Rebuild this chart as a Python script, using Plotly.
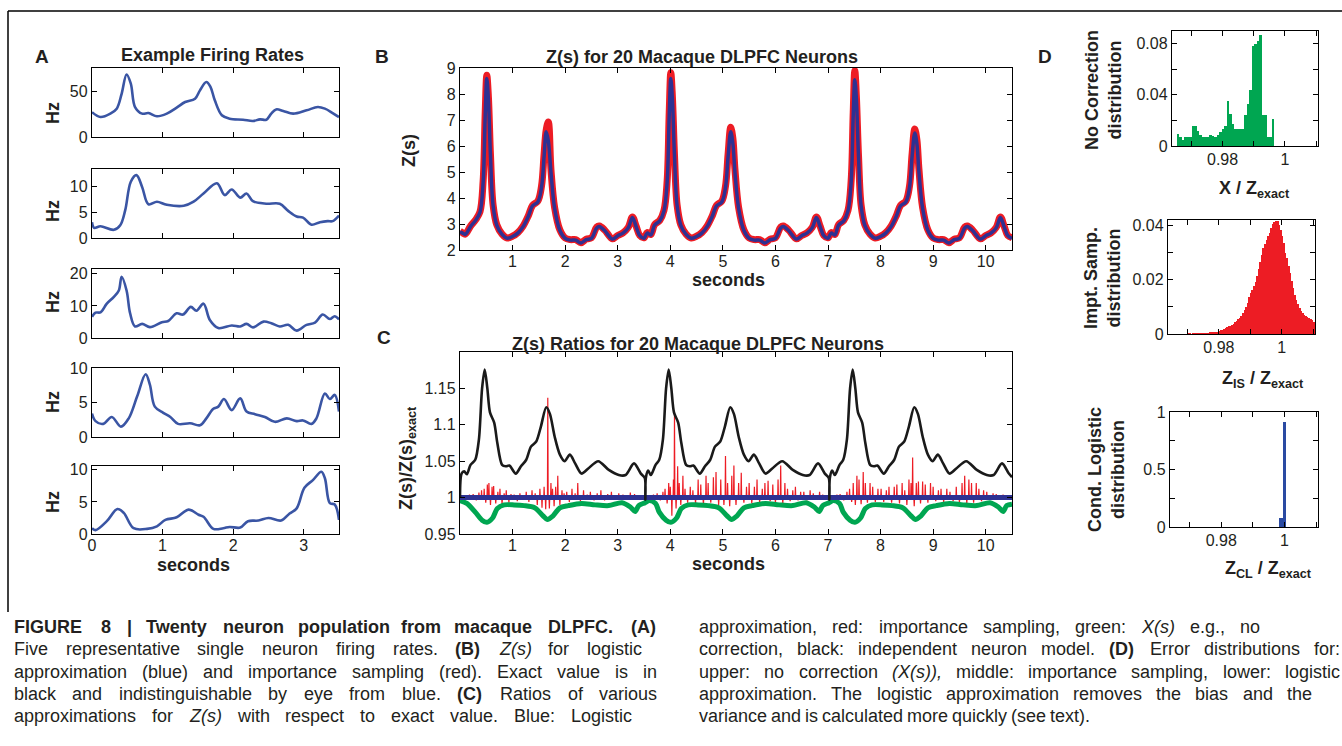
import re
import plotly.graph_objects as go

W, H = 1342, 746


def fx(px):
    return px / W


def fy(py):
    return 1 - py / H


# ---------------- DATA ----------------
# Panel A: example firing rates (seconds, Hz)
A1_t = [0, 0.12, 0.26, 0.35, 0.42, 0.49, 0.55, 0.61, 0.71, 0.80, 0.92, 1.06, 1.20, 1.32, 1.46, 1.53, 1.62, 1.68,
        1.74, 1.84, 1.95, 2.14, 2.28, 2.38, 2.47, 2.54, 2.61, 2.71, 2.85, 3.04, 3.20, 3.30, 3.41, 3.50]
A1_hz = [27, 21.7, 25.4, 30.8, 47, 68, 58, 32.6, 25.4, 26, 22.5, 25.4, 31.9, 38, 41.7, 50.7, 59.8, 54.3,
         39.9, 23.6, 19.9, 18.8, 17.4, 19.2, 18.8, 25.4, 30, 28.3, 25.4, 29, 32.6, 30.8, 26, 21.7]
A2_t = [0, 0.03, 0.12, 0.31, 0.40, 0.47, 0.55, 0.63, 0.71, 0.80, 0.92, 1.06, 1.30, 1.44, 1.58, 1.77, 1.88, 1.98,
        2.10, 2.19, 2.28, 2.47, 2.66, 2.78, 2.90, 2.99, 3.11, 3.23, 3.34, 3.41, 3.50]
A2_hz = [3.1, 2.0, 2.3, 1.6, 2.5, 5.4, 11.0, 12.3, 10.0, 6.6, 7.1, 6.5, 6.3, 7.1, 8.7, 10.7, 8.4, 9.5,
         7.9, 8.7, 7.2, 6.7, 6.7, 5.3, 4.2, 4.0, 2.6, 3.1, 3.3, 3.3, 4.4]
A3_t = [0, 0.05, 0.12, 0.21, 0.31, 0.38, 0.42, 0.49, 0.54, 0.61, 0.71, 0.82, 0.99, 1.08, 1.20, 1.29, 1.40, 1.48,
        1.58, 1.67, 1.79, 1.98, 2.10, 2.19, 2.28, 2.43, 2.54, 2.66, 2.78, 2.90, 3.04, 3.16, 3.27, 3.37, 3.44, 3.50]
A3_hz = [6.6, 7.9, 8.0, 10.7, 12.8, 14.8, 19.1, 14.8, 7.7, 3.6, 4.4, 3.4, 4.9, 5.3, 7.7, 7.3, 9.7, 8.5,
         10.7, 5.6, 3.1, 3.9, 3.6, 4.4, 3.3, 5.1, 4.6, 3.6, 4.1, 2.3, 4.1, 4.8, 7.3, 5.9, 6.8, 5.8]
A4_t = [0, 0.05, 0.16, 0.28, 0.41, 0.52, 0.64, 0.76, 0.82, 0.89, 1.01, 1.11, 1.22, 1.39, 1.53, 1.62, 1.72, 1.79,
        1.87, 1.98, 2.10, 2.19, 2.31, 2.45, 2.59, 2.76, 2.90, 2.99, 3.11, 3.18, 3.30, 3.37, 3.44, 3.50]
A4_hz = [3.4, 2.3, 1.9, 2.9, 1.5, 2.7, 5.9, 9.1, 7.6, 4.4, 3.5, 2.9, 1.9, 2.0, 1.7, 2.7, 4.1, 4.4,
         5.5, 3.9, 5.6, 3.7, 3.3, 2.9, 2.2, 2.7, 2.3, 2.4, 1.9, 2.7, 6.3, 5.5, 6.1, 3.7]
A5_t = [0, 0.05, 0.21, 0.36, 0.45, 0.59, 0.78, 0.92, 1.04, 1.20, 1.37, 1.51, 1.58, 1.72, 1.86, 1.95, 2.10, 2.21,
        2.36, 2.50, 2.68, 2.80, 2.90, 3.01, 3.13, 3.25, 3.30, 3.37, 3.44, 3.50]
A5_hz = [0.9, 0.6, 2.0, 3.9, 3.3, 0.9, 0.8, 1.2, 2.2, 2.6, 3.8, 3.0, 2.7, 0.8, 0.9, 1.1, 1.0, 2.0,
         2.1, 2.5, 2.1, 3.2, 4.0, 7.2, 8.4, 9.7, 8.7, 4.8, 4.6, 2.2]

# Panel B: Z(s), logistic approximation (blue) and importance sampling (red)
B_t = [0.00, 0.05, 0.10, 0.20, 0.30, 0.38, 0.44, 0.48, 0.51, 0.54, 0.58, 0.63, 0.70, 0.80, 0.90, 1.00, 1.10, 1.20,
       1.30, 1.38, 1.48, 1.55, 1.60, 1.64, 1.68, 1.73, 1.80, 1.90, 2.00, 2.10, 2.20, 2.30, 2.40, 2.50, 2.60, 2.65,
       2.75, 2.90, 3.00, 3.10, 3.20, 3.28, 3.35, 3.42, 3.50,
       3.56, 3.63, 3.70, 3.80, 3.88, 3.94, 3.98, 4.01, 4.04, 4.08, 4.13, 4.20, 4.30, 4.40, 4.50, 4.60, 4.70, 4.80,
       4.88, 4.98, 5.05, 5.10, 5.15, 5.19, 5.23, 5.30, 5.40, 5.50, 5.60, 5.70, 5.80, 5.90, 6.00, 6.10, 6.15, 6.25,
       6.40, 6.50, 6.60, 6.70, 6.78, 6.85, 6.92, 7.00,
       7.06, 7.13, 7.20, 7.30, 7.38, 7.44, 7.48, 7.51, 7.54, 7.58, 7.63, 7.70, 7.80, 7.90, 8.00, 8.10, 8.20, 8.30,
       8.38, 8.48, 8.55, 8.60, 8.65, 8.69, 8.73, 8.80, 8.90, 9.00, 9.10, 9.20, 9.30, 9.40, 9.50, 9.60, 9.65, 9.75,
       9.90, 10.00, 10.10, 10.20, 10.28, 10.35, 10.42, 10.50]
B_logistic = [2.70, 2.65, 2.60, 2.90, 3.15, 3.45, 4.60, 7.20, 8.60, 7.80, 5.60, 3.70, 2.95, 2.60, 2.45, 2.52, 2.65, 2.90,
              3.30, 3.70, 3.85, 4.40, 5.60, 6.55, 6.20, 5.00, 3.60, 2.75, 2.45, 2.38, 2.38, 2.27, 2.40, 2.45, 2.85, 2.90,
              2.75, 2.42, 2.55, 2.65, 2.85, 3.25, 2.90, 2.55, 2.45,
              2.65, 2.58, 2.95, 3.12, 3.50, 4.60, 7.20, 8.60, 7.80, 5.60, 3.70, 2.95, 2.60, 2.45, 2.52, 2.65, 2.90, 3.30,
              3.70, 3.85, 4.40, 5.60, 6.55, 6.10, 5.00, 3.60, 2.75, 2.45, 2.38, 2.38, 2.27, 2.40, 2.45, 2.85, 2.90, 2.75,
              2.42, 2.55, 2.65, 2.85, 3.25, 2.90, 2.55, 2.45,
              2.65, 2.58, 2.95, 3.12, 3.50, 4.60, 7.20, 8.55, 7.80, 5.60, 3.70, 2.95, 2.60, 2.45, 2.52, 2.65, 2.90, 3.30,
              3.70, 3.85, 4.40, 5.60, 6.50, 6.10, 5.00, 3.60, 2.75, 2.45, 2.38, 2.38, 2.27, 2.40, 2.45, 2.85, 2.90, 2.75,
              2.42, 2.55, 2.65, 2.85, 3.25, 2.90, 2.55, 2.45]
B_importance = [2.72, 2.66, 2.61, 2.92, 3.17, 3.47, 4.65, 7.30, 8.72, 7.90, 5.65, 3.72, 2.97, 2.61, 2.46, 2.53, 2.67, 2.92,
                3.32, 3.72, 3.88, 4.45, 5.70, 6.62, 6.92, 5.10, 3.63, 2.77, 2.46, 2.40, 2.40, 2.28, 2.42, 2.47, 2.88, 2.92,
                2.77, 2.43, 2.56, 2.66, 2.87, 3.27, 2.92, 2.56, 2.47,
                2.67, 2.60, 2.97, 3.14, 3.52, 4.65, 7.30, 8.82, 7.90, 5.65, 3.72, 2.97, 2.61, 2.46, 2.53, 2.67, 2.92, 3.32,
                3.72, 3.88, 4.45, 5.70, 6.72, 6.30, 5.10, 3.63, 2.77, 2.46, 2.40, 2.40, 2.28, 2.42, 2.47, 2.88, 2.92, 2.77,
                2.43, 2.56, 2.66, 2.87, 3.27, 2.92, 2.56, 2.47,
                2.67, 2.60, 2.97, 3.14, 3.52, 4.65, 7.30, 8.90, 7.90, 5.65, 3.72, 2.97, 2.61, 2.46, 2.53, 2.67, 2.92, 3.32,
                3.72, 3.88, 4.45, 5.70, 6.65, 6.25, 5.10, 3.63, 2.77, 2.46, 2.40, 2.40, 2.28, 2.42, 2.47, 2.88, 2.92, 2.77,
                2.43, 2.56, 2.66, 2.87, 3.27, 2.92, 2.56, 2.47]

# Panel C: ratios Z(s)/Z(s)exact
C_ind_t = [0.000, 0.030, 0.080, 0.130, 0.200, 0.290, 0.360, 0.420, 0.470, 0.520, 0.570, 0.650, 0.710, 0.800, 0.870,
           0.940, 1.060, 1.160, 1.260, 1.350, 1.450, 1.540, 1.640, 1.710, 1.800, 1.900, 1.990, 2.090, 2.190, 2.310,
           2.440, 2.630, 2.830, 3.020, 3.150, 3.310, 3.440, 3.515, 3.525, 3.535, 3.580, 3.630, 3.720,
           3.790, 3.860, 3.920, 3.970, 4.020, 4.070, 4.150, 4.210, 4.300, 4.370, 4.440, 4.560, 4.660, 4.760, 4.850,
           4.950, 5.040, 5.140, 5.210, 5.300, 5.400, 5.490, 5.590, 5.690, 5.810, 5.940, 6.130, 6.330, 6.520, 6.650,
           6.810, 6.940, 7.015, 7.025, 7.035, 7.080, 7.130, 7.220,
           7.290, 7.360, 7.420, 7.470, 7.520, 7.570, 7.650, 7.710, 7.800, 7.870, 7.940, 8.060, 8.160, 8.260, 8.350,
           8.450, 8.540, 8.640, 8.710, 8.800, 8.900, 8.990, 9.090, 9.190, 9.310, 9.440, 9.630, 9.830, 10.020, 10.150,
           10.310, 10.440, 10.500]
C_independent = [1.000, 1.033, 1.036, 1.032, 1.045, 1.052, 1.080, 1.150, 1.176, 1.150, 1.117, 1.103, 1.075, 1.045, 1.043,
                 1.044, 1.033, 1.043, 1.052, 1.070, 1.077, 1.098, 1.124, 1.115, 1.084, 1.059, 1.050, 1.059, 1.047, 1.033,
                 1.040, 1.050, 1.038, 1.031, 1.031, 1.047, 1.033, 1.027, 0.997, 1.027, 1.037, 1.031, 1.045,
                 1.052, 1.080, 1.150, 1.176, 1.150, 1.117, 1.103, 1.075, 1.045, 1.043, 1.044, 1.033, 1.043, 1.052, 1.070,
                 1.077, 1.098, 1.124, 1.115, 1.084, 1.059, 1.050, 1.059, 1.047, 1.033, 1.040, 1.050, 1.038, 1.031, 1.031,
                 1.047, 1.033, 1.027, 0.997, 1.027, 1.037, 1.031, 1.045,
                 1.052, 1.080, 1.150, 1.176, 1.150, 1.117, 1.103, 1.075, 1.045, 1.043, 1.044, 1.033, 1.043, 1.052, 1.070,
                 1.077, 1.098, 1.124, 1.115, 1.084, 1.059, 1.050, 1.059, 1.047, 1.033, 1.040, 1.050, 1.038, 1.031, 1.031,
                 1.047, 1.033, 1.028]
C_nc_t = [0.00, 0.13, 0.29, 0.42, 0.51, 0.62, 0.71, 0.84, 1.03, 1.22, 1.42, 1.58, 1.66, 1.77, 1.90, 2.06, 2.31, 2.57,
          2.83, 3.08, 3.24, 3.33, 3.40, 3.52, 3.60, 3.72,
          3.79, 3.92, 4.01, 4.12, 4.21, 4.34, 4.53, 4.72, 4.92, 5.08, 5.16, 5.27, 5.40, 5.56, 5.81, 6.07, 6.33, 6.58,
          6.74, 6.83, 6.90, 7.02, 7.10, 7.22,
          7.29, 7.42, 7.51, 7.62, 7.71, 7.84, 8.03, 8.22, 8.42, 8.58, 8.66, 8.77, 8.90, 9.06, 9.31, 9.57, 9.83, 10.08,
          10.24, 10.33, 10.40, 10.50]
C_no_correction = [0.996, 0.992, 0.980, 0.969, 0.966, 0.972, 0.985, 0.990, 0.990, 0.989, 0.986, 0.975, 0.970, 0.975,
                   0.986, 0.989, 0.992, 0.990, 0.989, 0.993, 0.987, 0.981, 0.989, 0.993, 0.996, 0.992,
                   0.980, 0.969, 0.966, 0.972, 0.985, 0.990, 0.990, 0.989, 0.986, 0.975, 0.970, 0.975, 0.986, 0.989,
                   0.992, 0.990, 0.989, 0.993, 0.987, 0.981, 0.989, 0.993, 0.996, 0.992,
                   0.980, 0.969, 0.966, 0.972, 0.985, 0.990, 0.990, 0.989, 0.986, 0.975, 0.970, 0.975, 0.986, 0.989,
                   0.992, 0.990, 0.989, 0.993, 0.987, 0.981, 0.989, 0.991]
C_log_t = [0.0, 10.5]
C_logistic = [1.0, 1.0]
# importance-sampling ratio: spike times and spike values (baseline 1.0 in between)
C_is_t = [0.05, 0.12, 0.18, 0.25, 0.31, 0.36, 0.41, 0.46, 0.49, 0.52, 0.55, 0.58, 0.61, 0.64, 0.68, 0.72, 0.76,
          0.80, 0.84, 0.88, 0.93, 0.97, 1.03, 1.09, 1.14, 1.20, 1.26, 1.31, 1.37, 1.43, 1.47, 1.52, 1.56, 1.60,
          1.63, 1.67, 1.70, 1.73, 1.76, 1.79, 1.82, 1.86, 1.90, 1.94, 1.98, 2.03, 2.08, 2.13, 2.19, 2.24, 2.29,
          2.35, 2.42, 2.48, 2.55, 2.61, 2.68, 2.75, 2.81, 2.88, 2.95, 3.02, 3.10, 3.17, 3.24, 3.32, 3.40, 3.46,
          3.56, 3.62, 3.68, 3.75, 3.81, 3.86, 3.90, 3.94, 3.97, 4.00, 4.03, 4.06, 4.08, 4.11, 4.14, 4.17, 4.20,
          4.24, 4.28, 4.33, 4.38, 4.43, 4.48, 4.53, 4.58, 4.63, 4.68, 4.72, 4.77, 4.82, 4.87, 4.92, 4.96, 5.02,
          5.05, 5.09, 5.13, 5.17, 5.21, 5.25, 5.30, 5.35, 5.40, 5.45, 5.50, 5.55, 5.60, 5.65, 5.70, 5.75, 5.80,
          5.86, 5.90, 5.95, 6.00, 6.05, 6.10, 6.14, 6.18, 6.23, 6.28, 6.33, 6.38, 6.43, 6.48, 6.54, 6.60, 6.66,
          6.72, 6.78, 6.84, 6.90, 6.96, 7.05, 7.11, 7.17, 7.23, 7.30, 7.36, 7.41, 7.45, 7.48, 7.52, 7.55, 7.59,
          7.63, 7.67, 7.71, 7.75, 7.80, 7.85, 7.90, 7.95, 8.01, 8.06, 8.11, 8.16, 8.21, 8.26, 8.31, 8.36, 8.41,
          8.46, 8.50, 8.54, 8.58, 8.61, 8.64, 8.68, 8.72, 8.76, 8.80, 8.85, 8.90, 8.95, 9.00, 9.05, 9.10, 9.15,
          9.20, 9.26, 9.32, 9.38, 9.44, 9.50, 9.55, 9.60, 9.64, 9.68, 9.73, 9.77, 9.82, 9.87, 9.92, 9.96, 10.02,
          10.08, 10.14, 10.20, 10.27, 10.33, 10.40, 10.46]
C_importance = [1.003, 0.997, 1.004, 1.005, 0.996, 1.007, 1.010, 1.012, 0.993, 1.018, 1.020, 0.990, 1.015, 1.016,
                0.992, 1.008, 1.012, 0.990, 1.006, 1.010, 0.993, 1.005, 1.004, 0.995, 1.006, 1.003, 1.008, 0.994,
                1.010, 1.006, 0.990, 1.012, 0.986, 1.015, 0.984, 1.137, 0.985, 1.020, 1.012, 0.988, 1.015, 1.030,
                0.990, 1.010, 1.006, 1.008, 0.994, 1.012, 1.006, 1.020, 0.995, 1.010, 1.004, 1.008, 0.996, 1.006,
                1.010, 0.996, 1.005, 1.008, 0.997, 1.006, 1.004, 0.997, 1.007, 1.005, 0.998, 1.003,
                1.003, 0.997, 1.004, 1.006, 0.996, 1.008, 1.012, 0.992, 1.020, 1.015, 0.975, 1.025, 1.115, 0.985,
                1.043, 1.020, 0.990, 1.030, 1.012, 0.993, 1.015, 1.010, 0.992, 1.025, 1.018, 0.990, 1.030, 1.020,
                0.993, 1.028, 1.035, 0.990, 1.025, 0.990, 1.057, 1.020, 0.988, 1.030, 1.044, 0.990, 1.020, 1.034,
                0.993, 1.015, 1.020, 0.992, 1.015, 1.025, 0.993, 1.012, 1.020, 1.023, 0.995, 1.018, 0.993, 1.025,
                1.044, 0.992, 1.020, 1.012, 0.995, 1.010, 1.015, 0.996, 1.008, 1.008, 0.996, 1.010, 1.006, 0.997,
                1.008, 1.004, 0.998, 1.003, 0.997, 1.004, 1.005, 0.996, 1.008, 1.012, 0.994, 1.020, 0.990, 1.030,
                1.025, 0.991, 1.035, 1.020, 0.993, 1.020, 1.015, 0.994, 1.012, 1.012, 0.994, 1.010, 1.015, 0.993,
                1.015, 1.018, 0.992, 1.020, 1.010, 0.990, 1.025, 1.020, 1.055, 0.988, 1.020, 1.022, 0.992, 1.022,
                1.018, 0.993, 1.020, 1.015, 0.995, 1.010, 1.012, 0.994, 1.012, 1.008, 0.995, 1.015, 0.993, 1.020,
                1.030, 0.992, 1.025, 1.020, 0.993, 1.020, 1.012, 0.995, 1.010, 1.008, 0.997, 1.006, 1.005, 0.997,
                1.004, 1.003, 0.998]
C_is_baseline = 1.0

# Panel D: error distributions (bin left edge, bin width, per-bin probability)
D1_start, D1_width = 0.9653, 0.0008
D1_no_correction = [0.0094, 0.0073, 0.0050, 0.0068, 0.0068, 0.0068, 0.0157, 0.0157, 0.0120, 0.0090,
                    0.0073, 0.0068, 0.0068, 0.0090, 0.0080, 0.0068, 0.0090, 0.0110, 0.0130, 0.0160,
                    0.0350, 0.0250, 0.0170, 0.0130, 0.0130, 0.0130, 0.0130, 0.0240, 0.0330, 0.0440,
                    0.0780, 0.0800, 0.0820, 0.0870, 0.0240, 0.0240, 0.0070, 0.0070, 0.0210]
D2_start, D2_width = 0.9700, 0.0005
D2_importance = [0.0001, 0.0001, 0.0000, 0.0001, 0.0001, 0.0001, 0.0001, 0.0002, 0.0001, 0.0002,
                 0.0002, 0.0002, 0.0003, 0.0003, 0.0004, 0.0004, 0.0005, 0.0007, 0.0008, 0.0009,
                 0.0011, 0.0013, 0.0015, 0.0018, 0.0021, 0.0024, 0.0028, 0.0031, 0.0034, 0.0038,
                 0.0043, 0.0049, 0.0055, 0.0060, 0.0068, 0.0078, 0.0088, 0.0100, 0.0115, 0.0135,
                 0.0150, 0.0163, 0.0178, 0.0190, 0.0215, 0.0240, 0.0265, 0.0290, 0.0318, 0.0330,
                 0.0348, 0.0362, 0.0372, 0.0390, 0.0405, 0.0412, 0.0418, 0.0416, 0.0402, 0.0385,
                 0.0360, 0.0335, 0.0300, 0.0280, 0.0250, 0.0225, 0.0195, 0.0170, 0.0145, 0.0127,
                 0.0110, 0.0097, 0.0085, 0.0078, 0.0071, 0.0066, 0.0062, 0.0058, 0.0054, 0.0050,
                 0.0046]
D3_start, D3_width = 0.9983, 0.0011
D3_logistic = [0.08, 0.91]

# ---------------- STYLE ----------------
TXT = '#231f20'
SANS = 'Liberation Sans, Arial, Helvetica, sans-serif'
TICKFONT = dict(family=SANS, size=16, color=TXT)
A_BLUE = '#3a55a4'
B_BLUE = '#2e3192'
RED = '#ed1c24'
GREEN = '#00a651'

fig = go.Figure()
layout = dict(width=W, height=H, autosize=False,
              margin=dict(l=0, r=0, t=0, b=0, pad=0, autoexpand=False),
              paper_bgcolor='white', plot_bgcolor='white', showlegend=False, bargap=0)


def axis(**kw):
    d = dict(showline=True, linecolor='black', linewidth=1.4, mirror='ticks', ticks='inside', ticklen=5,
             tickwidth=1, tickcolor='black', showgrid=False, zeroline=False, tickfont=TICKFONT,
             fixedrange=True, automargin=False)
    d.update(kw)
    return d


def add_axes(n, x0, x1, y0, y1, xr, yr, xt, yt, showx=True, xminor=None, yminor=None, xstand=-3):
    sfx = '' if n == 1 else str(n)
    xkw = dict(domain=[fx(x0), fx(x1)], range=xr, anchor='y' + sfx, tickvals=xt,
               ticktext=[f'{v:g}' for v in xt], showticklabels=showx, ticklabelstandoff=xstand)
    ykw = dict(domain=[fy(y1), fy(y0)], range=yr, anchor='x' + sfx, tickvals=yt,
               ticktext=[f'{v:g}' for v in yt])
    if xminor:
        xkw['minor'] = dict(tickvals=xminor, ticks='inside', ticklen=5, tickwidth=1, tickcolor='black',
                            showgrid=False)
    if yminor:
        ykw['minor'] = dict(tickvals=yminor, ticks='inside', ticklen=5, tickwidth=1, tickcolor='black',
                            showgrid=False)
    layout['xaxis' + sfx] = axis(**xkw)
    layout['yaxis' + sfx] = axis(**ykw)
    return 'x' + sfx, 'y' + sfx


# Panel A axes
A_rows = [(68, 137, [0, 75], [0, 50]), (169, 238, [0, 13.5], [0, 5, 10]), (269, 338, [0, 21.5], [0, 10, 20]),
          (368, 437, [0, 10], [0, 5, 10]), (466, 534, [0, 10.6], [0, 5, 10])]
A_data = [(A1_t, A1_hz), (A2_t, A2_hz), (A3_t, A3_hz), (A4_t, A4_hz), (A5_t, A5_hz)]
for i, ((y0, y1, yr, yt), (tt, vv)) in enumerate(zip(A_rows, A_data)):
    xa, ya = add_axes(i + 1, 92, 339, y0, y1, [0, 3.5], yr, [0, 1, 2, 3], yt, showx=(i == 4))
    fig.add_trace(go.Scatter(x=tt, y=vv, mode='lines', line=dict(color=A_BLUE, width=2.6, shape='spline'),
                             xaxis=xa, yaxis=ya))

# Panel B
xa, ya = add_axes(6, 460, 1012, 68, 250, [0, 10.5], [2, 9], list(range(1, 11)), list(range(2, 10)))
fig.add_trace(go.Scatter(x=B_t, y=B_importance, mode='lines', line=dict(color=RED, width=7, shape='spline'),
                         xaxis=xa, yaxis=ya))
fig.add_trace(go.Scatter(x=B_t, y=B_logistic, mode='lines', line=dict(color=B_BLUE, width=3.5, shape='spline'),
                         xaxis=xa, yaxis=ya))

# Panel C
xa, ya = add_axes(7, 460, 1012, 352, 534, [0, 10.5], [0.95, 1.2], list(range(1, 11)),
                  [0.95, 1.0, 1.05, 1.1, 1.15])
is_x, is_y = [0.0], [C_is_baseline]
for t, v in zip(C_is_t, C_importance):
    is_x += [t - 0.007, t, t + 0.007]
    is_y += [C_is_baseline, v, C_is_baseline]
is_x.append(10.5)
is_y.append(C_is_baseline)
fig.add_trace(go.Scatter(x=is_x, y=is_y, mode='lines', line=dict(color=RED, width=1.2),
                         xaxis=xa, yaxis=ya))
fig.add_trace(go.Scatter(x=C_nc_t, y=C_no_correction, mode='lines',
                         line=dict(color=GREEN, width=5, shape='spline', smoothing=0.8),
                         xaxis=xa, yaxis=ya))
fig.add_trace(go.Scatter(x=C_log_t, y=C_logistic, mode='lines', line=dict(color=B_BLUE, width=5),
                         xaxis=xa, yaxis=ya))
fig.add_trace(go.Scatter(x=C_ind_t, y=C_independent, mode='lines',
                         line=dict(color='#1a1a1a', width=2.6, shape='spline', smoothing=0.8),
                         xaxis=xa, yaxis=ya))

# Panel D
D_specs = [
    (8, 1172, 1318, 31, 146, [0, 0.09], [0, 0.04, 0.08], [0.02, 0.06],
     D1_start, D1_width, D1_no_correction, GREEN),
    (9, 1168, 1315, 220, 334, [0, 0.042], [0, 0.02, 0.04], [0.01, 0.03],
     D2_start, D2_width, D2_importance, RED),
    (10, 1170, 1318, 412, 527, [0, 1], [0, 0.5, 1], [0.25, 0.75],
     D3_start, D3_width, D3_logistic, '#2a4aa2'),
]
for n, x0, x1, y0, y1, yr, yt, ymin, start, width, vals, col in D_specs:
    xa, ya = add_axes(n, x0, x1, y0, y1, [0.9638, 1.0106], yr, [0.98, 1.0], yt,
                      xminor=[0.97, 0.99, 1.01], yminor=ymin, xstand=-1)
    centers = [start + width * (k + 0.5) for k in range(len(vals))]
    fig.add_trace(go.Bar(x=centers, y=vals, width=[width] * len(vals), marker=dict(color=col, line=dict(width=0)),
                         xaxis=xa, yaxis=ya))

# ---------------- ANNOTATIONS ----------------
anns = []


def ann(text, px, py, size=18, angle=0, xanchor='center', yanchor='middle', family=SANS):
    anns.append(dict(text=text, x=fx(px), y=fy(py), xref='paper', yref='paper', showarrow=False,
                     xanchor=xanchor, yanchor=yanchor, textangle=angle,
                     font=dict(family=family, size=size, color=TXT)))


ann('<b>A</b>', 42, 57, size=19)
ann('<b>B</b>', 382, 57, size=19)
ann('<b>C</b>', 384, 337, size=19)
ann('<b>D</b>', 1045, 57, size=19)
ann('<b>Example Firing Rates</b>', 212, 55)
ann('<b>Z(s) for 20 Macaque DLPFC Neurons</b>', 702, 57)
ann('<b>Z(s) Ratios for 20 Macaque DLPFC Neurons</b>', 698, 344)
for yy in [113, 211, 302, 402, 502]:
    ann('<b>Hz</b>', 53, yy, angle=-90)
ann('<b>seconds</b>', 193, 565)
ann('<b>seconds</b>', 729, 280)
ann('<b>seconds</b>', 729, 564)
ann('<b>Z(s)</b>', 409, 150, angle=-90)
ann('<b>Z(s)/Z(s)<sub>exact</sub></b>', 407, 458, angle=-90)
ann('<b>No Correction<br>distribution</b>', 1104, 90, angle=-90)
ann('<b>Impt. Samp.<br>distribution</b>', 1102, 278, angle=-90)
ann('<b>Cond. Logistic<br>distribution</b>', 1106, 470, angle=-90)
ann('<b>X / Z<sub>exact</sub></b>', 1254, 189)
ann('<b>Z<sub>IS</sub> / Z<sub>exact</sub></b>', 1263, 379)
ann('<b>Z<sub>CL</sub> / Z<sub>exact</sub></b>', 1268, 569)

# caption (justified word by word)
HELV = {' ': 278, '!': 278, '(': 333, ')': 333, ',': 278, '-': 333, '.': 278, '/': 278, ':': 278, '|': 260,
        'A': 667, 'B': 667, 'C': 722, 'D': 722, 'E': 667, 'F': 611, 'G': 778, 'H': 722, 'I': 278, 'J': 500,
        'K': 667, 'L': 556, 'M': 833, 'N': 722, 'O': 778, 'P': 667, 'Q': 778, 'R': 722, 'S': 667, 'T': 611,
        'U': 722, 'V': 667, 'W': 944, 'X': 667, 'Y': 667, 'Z': 611,
        'a': 556, 'b': 556, 'c': 500, 'd': 556, 'e': 556, 'f': 278, 'g': 556, 'h': 556, 'i': 222, 'j': 222,
        'k': 500, 'l': 222, 'm': 833, 'n': 556, 'o': 556, 'p': 556, 'q': 556, 'r': 333, 's': 500, 't': 278,
        'u': 556, 'v': 500, 'w': 722, 'x': 500, 'y': 500, 'z': 500}
CAP_SIZE = 18


def tok_w(tok):
    plain = re.sub(r'<[^>]+>', '', tok)
    w = sum(HELV.get(c, 556) for c in plain) / 1000 * CAP_SIZE
    if '<b>' in tok:
        w *= 1.07
    return w


CAP_LINES = [
    ('<b>FIGURE</b> <b>8</b> <b>|</b> <b>Twenty</b> <b>neuron</b> <b>population</b> <b>from</b> <b>macaque</b> '
     '<b>DLPFC.</b> <b>(A)</b>', 12, 655, 627),
    ('Five representative single neuron firing rates. <b>(B)</b> <i>Z(s)</i> for logistic', 12, 640, 649),
    ('approximation (blue) and importance sampling (red). Exact value is in', 12, 655, 672),
    ('black and indistinguishable by eye from blue. <b>(C)</b> Ratios of various', 12, 655, 694),
    ('approximations for <i>Z(s)</i> with respect to exact value. Blue: Logistic', 12, 630, 716),
    ('approximation, red: importance sampling, green: <i>X(s)</i> e.g., no', 697, 1258, 627),
    ('correction, black: independent neuron model. <b>(D)</b> Error distributions for:', 697, 1338, 649),
    ('upper: no correction <i>(X(s)),</i> middle: importance sampling, lower: logistic', 697, 1338, 672),
    ('approximation. The logistic approximation removes the bias and the', 697, 1310, 694),
    ('variance and is calculated more quickly (see text).', 697, 1088, 716),
]
for line, xl, xr, yy in CAP_LINES:
    toks = line.split(' ')
    widths = [tok_w(t) for t in toks]
    gap = (xr - xl - sum(widths)) / (len(toks) - 1)
    cx = xl
    for t, w in zip(toks, widths):
        ann(t, cx, yy, size=CAP_SIZE, xanchor='left')
        cx += w + gap

layout['annotations'] = anns
layout['shapes'] = [
    dict(type='line', xref='paper', yref='paper', x0=fx(8), x1=fx(1342), y0=fy(11), y1=fy(11),
         line=dict(color='black', width=1.5)),
    dict(type='line', xref='paper', yref='paper', x0=fx(8), x1=fx(8), y0=fy(11), y1=fy(612),
         line=dict(color='black', width=1.5)),
]
fig.update_layout(**layout)
fig.update_traces(hoverinfo='skip')
fig.write_html('out.html', config={'displayModeBar': False},
               post_script="document.body.style.margin='0px';document.body.style.overflow='hidden';")
